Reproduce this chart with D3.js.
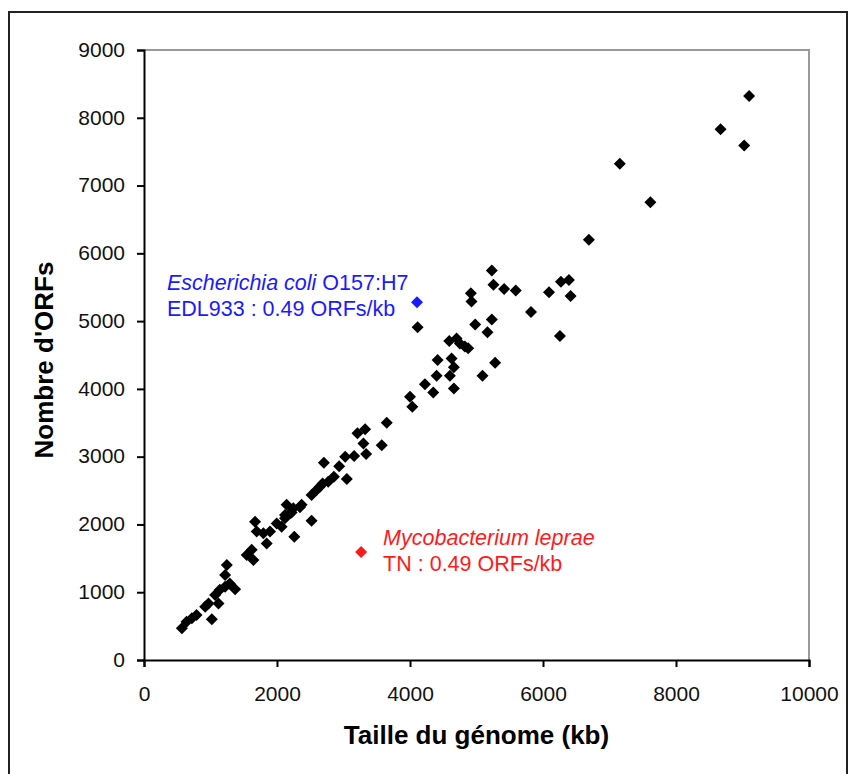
<!DOCTYPE html>
<html>
<head>
<meta charset="utf-8">
<script src="https://cdn.jsdelivr.net/npm/d3@7"></script>
<style>
    body { margin: 0; background: #fff; }
    text { font-family: "Liberation Sans", Arial, sans-serif; }
</style>
</head>
<body>
<svg id="chart" width="849" height="774"></svg>
<script>
// Genome size (kb) vs number of ORFs
const genomeSize = [
    570, 640, 720, 790, 920, 970, 1020, 1070, 1120, 1140,
    1220, 1290, 1370, 1220, 1245, 1545, 1620, 1645, 1670, 1695,
    1795, 1895, 1845, 1995, 2070, 2120, 2120, 2145, 2195, 2220,
    2245, 2260, 2345, 2370, 2520, 2520, 2595, 2645, 2685, 2770,
    2705, 2855, 2935, 3050, 3025, 3160, 3340, 3300, 3575, 3210,
    3325, 3650, 4000, 4035, 4225, 4350, 4660, 4400, 4600, 5090,
    4415, 4625, 4660, 5280, 4590, 4700, 4750, 4825, 4875, 4980,
    5165, 5230, 4115, 4915, 4925, 5230, 5255, 5415, 5590, 6090,
    6270, 6390, 6415, 5820, 6255, 6690, 7615, 7155, 8670, 9025,
    9100
];
const orfCount = [
    470, 565, 615, 665, 785, 835, 600, 960, 835, 1035,
    1080, 1130, 1045, 1255, 1400, 1550, 1625, 1475, 2040, 1895,
    1870, 1895, 1720, 2015, 1965, 2090, 2140, 2290, 2165, 2175,
    2240, 1820, 2255, 2290, 2435, 2055, 2510, 2555, 2605, 2630,
    2910, 2705, 2860, 2670, 3000, 3010, 3040, 3195, 3170, 3345,
    3405, 3500, 3885, 3735, 4070, 3945, 4005, 4195, 4195, 4195,
    4425, 4450, 4320, 4385, 4705, 4745, 4670, 4625, 4600, 4950,
    4835, 5025, 4910, 5410, 5290, 5745, 5535, 5475, 5450, 5425,
    5580, 5605, 5370, 5135, 4780, 6200, 6755, 7320, 7830, 7590,
    8320
];

// highlighted genomes
const ecoliPoint = [4105, 5280];
const ecoliLines = [
    [{t: "Escherichia coli", italic: true}, {t: " O157:H7", italic: false}],
    [{t: "EDL933 : 0.49 ORFs/kb", italic: false}]
];
const lepraePoint = [3265, 1595];
const lepraeLines = [
    [{t: "Mycobacterium leprae", italic: true}],
    [{t: "TN : 0.49 ORFs/kb", italic: false}]
];

const xTicks = [0, 2000, 4000, 6000, 8000, 10000];
const yTicks = [0, 1000, 2000, 3000, 4000, 5000, 6000, 7000, 8000, 9000];
const xTitle = "Taille du génome (kb)";
const yTitle = "Nombre d'ORFs";

const svg = d3.select("#chart");
const plot = {left: 144, right: 809, top: 50, bottom: 660};

// outer chart frame
svg.append("rect")
    .attr("x", 9).attr("y", 12)
    .attr("width", 838).attr("height", 800)
    .attr("fill", "none")
    .attr("stroke", "#222")
    .attr("stroke-width", 2);

const x = d3.scaleLinear().domain([0, 10000]).range([plot.left, plot.right]);
const y = d3.scaleLinear().domain([0, 9000]).range([plot.bottom, plot.top]);

// grey top and right edges of the plot area
svg.append("path")
    .attr("d", `M${plot.left},${plot.top}H${plot.right}V${plot.bottom}`)
    .attr("fill", "none")
    .attr("stroke", "#999")
    .attr("stroke-width", 2);

const xAxis = svg.append("g")
    .attr("transform", `translate(0,${plot.bottom})`)
    .call(d3.axisBottom(x).tickValues(xTicks).tickSize(7).tickPadding(19).tickFormat(d3.format("d")));
const yAxis = svg.append("g")
    .attr("transform", `translate(${plot.left},0)`)
    .call(d3.axisLeft(y).tickValues(yTicks).tickSize(7).tickPadding(12).tickFormat(d3.format("d")));

[xAxis, yAxis].forEach(function(axis) {
    axis.select(".domain").attr("stroke", "#000").attr("stroke-width", 2);
    axis.selectAll(".tick line").attr("stroke", "#000").attr("stroke-width", 2);
    axis.selectAll(".tick text")
        .attr("font-family", "'Liberation Sans', Arial, sans-serif")
        .attr("font-size", 21)
        .attr("fill", "#111");
});
yAxis.selectAll(".tick text").attr("dy", "0.3em");

// axis titles
svg.append("text")
    .attr("x", (plot.left + plot.right) / 2)
    .attr("y", 744)
    .attr("text-anchor", "middle")
    .attr("font-size", 26)
    .attr("font-weight", "bold")
    .text(xTitle);

svg.append("text")
    .attr("transform", `translate(53,${(plot.top + plot.bottom) / 2 + 5}) rotate(-90)`)
    .attr("text-anchor", "middle")
    .attr("font-size", 26)
    .attr("font-weight", "bold")
    .text(yTitle);

// diamonds
const diamond = d3.symbol().type(d3.symbolSquare).size(72);
const points = genomeSize.map((g, i) => [g, orfCount[i]]);

svg.append("g").selectAll("path")
    .data(points)
    .join("path")
    .attr("d", diamond)
    .attr("transform", d => `translate(${x(d[0])},${y(d[1])}) rotate(45)`)
    .attr("fill", "#000");

function highlight(point, lines, color, dx, dy) {
    svg.append("path")
        .attr("d", diamond)
        .attr("transform", `translate(${x(point[0])},${y(point[1])}) rotate(45)`)
        .attr("fill", color);

    const label = svg.append("text")
        .attr("x", x(point[0]) + dx)
        .attr("y", y(point[1]) + dy)
        .attr("font-size", 21.5)
        .attr("fill", color);

    lines.forEach(function(line, i) {
        line.forEach(function(part, j) {
            const span = label.append("tspan")
                .attr("font-style", part.italic ? "italic" : "normal")
                .text(part.t);
            if (j === 0) {
                span.attr("x", x(point[0]) + dx).attr("dy", i === 0 ? 0 : 26);
            }
        });
    });
}

highlight(ecoliPoint, ecoliLines, "#1a1aff", -250, -12);
highlight(lepraePoint, lepraeLines, "#ff1a1a", 22, -7);
</script>
</body>
</html>
